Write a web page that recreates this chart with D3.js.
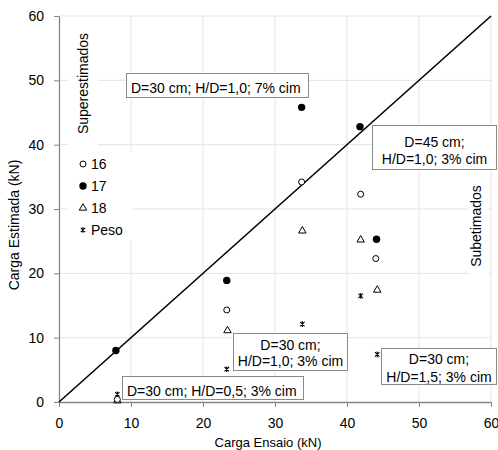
<!DOCTYPE html>
<html>
<head>
<meta charset="utf-8">
<script src="https://cdn.jsdelivr.net/npm/d3@7"></script>
<style>
  html, body { margin: 0; padding: 0; background: #fff; }
  svg { display: block; font-family: "Liberation Sans", Arial, sans-serif; }
</style>
</head>
<body>
<svg id="chart" width="498" height="450"></svg>
<script>
// Carga Ensaio (kN) vs Carga Estimada (kN), by method
const ticks = [0, 10, 20, 30, 40, 50, 60];

const x16 = [8.1, 23.3, 33.7, 41.9, 44.0];
const y16 = [0.4, 14.3, 34.2, 32.3, 22.3];

const x17 = [7.9, 23.3, 33.7, 41.8, 44.1];
const y17 = [8.0, 18.9, 45.8, 42.8, 25.3];

const x18 = [8.1, 23.4, 33.8, 41.9, 44.2];
const y18 = [0.2, 11.1, 26.6, 25.2, 17.4];

const xPeso = [8.1, 23.3, 33.8, 41.9, 44.2];
const yPeso = [1.2, 5.1, 12.1, 16.5, 7.4];

// 1:1 reference line
const refX = [0, 60];
const refY = [0, 60];

const legendNames = ["16", "17", "18", "Peso"];

const svg = d3.select("#chart");
const x = d3.scaleLinear().domain([0, 60]).range([59, 491]);
const y = d3.scaleLinear().domain([0, 60]).range([402, 16]);

// grid
const grid = svg.append("g").attr("stroke", "#e3e3e3").attr("stroke-width", 1);
ticks.filter(t => t > 0).forEach(t => {
  grid.append("line").attr("x1", x(t)).attr("x2", x(t)).attr("y1", y(0)).attr("y2", y(60));
  grid.append("line").attr("x1", x(0)).attr("x2", x(60)).attr("y1", y(t)).attr("y2", y(t));
});

// side notes with white backing
svg.append("rect").attr("x", 68).attr("y", 20).attr("width", 30).attr("height", 128).attr("fill", "#fff");
svg.append("text").attr("transform", "translate(88,83.5) rotate(-90)")
  .attr("text-anchor", "middle").attr("font-size", 14).text("Superestimados");

svg.append("rect").attr("x", 469).attr("y", 180).attr("width", 19).attr("height", 104).attr("fill", "#fff");
svg.append("text").attr("transform", "translate(481,226) rotate(-90)")
  .attr("text-anchor", "middle").attr("font-size", 14).text("Subetimados");

// axes
const axL = svg.append("g").attr("transform", `translate(${x(0)},0)`)
  .call(d3.axisLeft(y).tickValues(ticks).tickSize(5).tickSizeOuter(0).tickPadding(10));
const axB = svg.append("g").attr("transform", `translate(0,${y(0)})`)
  .call(d3.axisBottom(x).tickValues(ticks).tickSize(5).tickSizeOuter(0).tickPadding(11));
[axL, axB].forEach(a => {
  a.select(".domain").attr("stroke", "#868686").attr("stroke-width", 1.3);
  a.selectAll(".tick line").attr("stroke", "#868686");
  a.selectAll(".tick text").attr("font-size", 14).attr("fill", "#000")
    .attr("font-family", "Liberation Sans, Arial, sans-serif");
});

svg.append("text").attr("transform", "translate(19,225) rotate(-90)")
  .attr("text-anchor", "middle").attr("font-size", 14).text("Carga Estimada (kN)");
svg.append("text").attr("x", 268).attr("y", 447)
  .attr("text-anchor", "middle").attr("font-size", 13).text("Carga Ensaio (kN)");

// 1:1 line
svg.append("path")
  .attr("d", d3.line().x((d, i) => x(refX[i])).y((d, i) => y(refY[i]))(refX))
  .attr("fill", "none").attr("stroke", "#000").attr("stroke-width", 1.6);

// marker drawers
const triPath = d3.symbol().type(d3.symbolTriangle).size(24)();
function star(g, cx, cy) {
  const s = 2.2;
  g.append("path")
    .attr("d", `M${cx - s},${cy - s}L${cx + s},${cy + s}M${cx - s},${cy + s}L${cx + s},${cy - s}M${cx},${cy - s - 0.6}L${cx},${cy + s + 0.6}`)
    .attr("stroke", "#000").attr("stroke-width", 1.1).attr("fill", "none");
}
const drawers = [
  (g, cx, cy) => g.append("circle").attr("cx", cx).attr("cy", cy).attr("r", 3)
      .attr("fill", "#fff").attr("stroke", "#000").attr("stroke-width", 1),
  (g, cx, cy) => g.append("circle").attr("cx", cx).attr("cy", cy).attr("r", 3.7).attr("fill", "#000"),
  (g, cx, cy) => g.append("path").attr("d", triPath).attr("transform", `translate(${cx},${cy})`)
      .attr("fill", "#fff").attr("stroke", "#000").attr("stroke-width", 1),
  star
];

// points
const pts = svg.append("g");
const seriesX = [x16, x17, x18, xPeso];
const seriesY = [y16, y17, y18, yPeso];
[3, 2, 0, 1].forEach(s => {
  seriesX[s].forEach((v, i) => drawers[s](pts, x(v), y(seriesY[s][i])));
});

// legend
const lg = svg.append("g");
lg.append("rect").attr("x", 68).attr("y", 152).attr("width", 65).attr("height", 88).attr("fill", "#fff");
legendNames.forEach((n, i) => {
  const cy = 164 + i * 22;
  drawers[i](lg, 83, cy);
  lg.append("text").attr("x", 91).attr("y", cy + 5).attr("font-size", 14).text(n);
});

// annotation boxes
const notes = [
  { x: 126, y: 73, w: 183, h: 25, lines: ["D=30 cm; H/D=1,0; 7% cim"], base: [93], anchor: "start", tx: 131 },
  { x: 372, y: 125, w: 125, h: 45, lines: ["D=45 cm;", "H/D=1,0; 3% cim"], base: [147, 164], anchor: "middle" },
  { x: 233, y: 333, w: 115, h: 38, lines: ["D=30 cm;", "H/D=1,0; 3% cim"], base: [350, 366], anchor: "middle" },
  { x: 122, y: 376, w: 182, h: 24, lines: ["D=30 cm; H/D=0,5; 3% cim"], base: [396], anchor: "start", tx: 127 },
  { x: 381, y: 348, w: 116, h: 37, lines: ["D=30 cm;", "H/D=1,5; 3% cim"], base: [364, 382], anchor: "middle" }
];
notes.forEach(n => {
  const g = svg.append("g");
  g.append("rect").attr("x", n.x + 0.5).attr("y", n.y + 0.5).attr("width", n.w - 1).attr("height", n.h - 1)
    .attr("fill", "#fff").attr("stroke", "#8a8a8a").attr("stroke-width", 1);
  n.lines.forEach((t, i) => {
    g.append("text")
      .attr("x", n.anchor === "middle" ? n.x + n.w / 2 : n.tx)
      .attr("y", n.base[i]).attr("text-anchor", n.anchor)
      .attr("font-size", 14).text(t);
  });
});
</script>
</body>
</html>
